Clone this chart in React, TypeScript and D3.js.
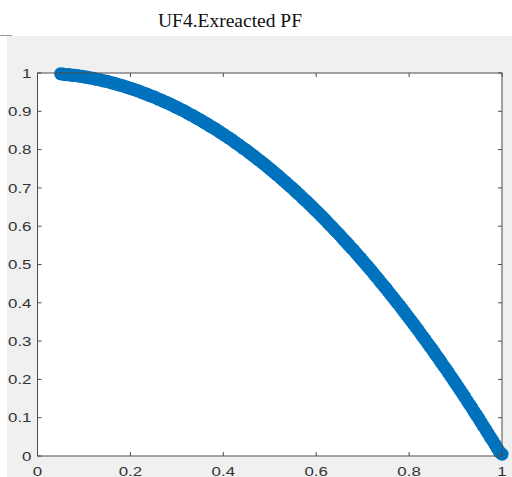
import { useEffect, useRef } from 'react'
import * as d3 from 'd3'

const title = 'UF4.Exreacted PF'
const xTicks = [0, 0.2, 0.4, 0.6, 0.8, 1]
const yTicks = [0, 0.1, 0.2, 0.3, 0.4, 0.5, 0.6, 0.7, 0.8, 0.9, 1]

const f1 = [
  0.05, 0.06, 0.07, 0.08, 0.09, 0.10, 0.11, 0.12, 0.13, 0.14,
  0.15, 0.16, 0.17, 0.18, 0.19, 0.20, 0.21, 0.22, 0.23, 0.24,
  0.25, 0.26, 0.27, 0.28, 0.29, 0.30, 0.31, 0.32, 0.33, 0.34,
  0.35, 0.36, 0.37, 0.38, 0.39, 0.40, 0.41, 0.42, 0.43, 0.44,
  0.45, 0.46, 0.47, 0.48, 0.49, 0.50, 0.51, 0.52, 0.53, 0.54,
  0.55, 0.56, 0.57, 0.58, 0.59, 0.60, 0.61, 0.62, 0.63, 0.64,
  0.65, 0.66, 0.67, 0.68, 0.69, 0.70, 0.71, 0.72, 0.73, 0.74,
  0.75, 0.76, 0.77, 0.78, 0.79, 0.80, 0.81, 0.82, 0.83, 0.84,
  0.85, 0.86, 0.87, 0.88, 0.89, 0.90, 0.91, 0.92, 0.93, 0.94,
  0.95, 0.96, 0.97, 0.98, 0.99, 1.00
]
const f2 = [
  0.998, 0.996, 0.995, 0.994, 0.992, 0.990, 0.988, 0.986, 0.983, 0.980,
  0.978, 0.974, 0.971, 0.968, 0.964, 0.960, 0.956, 0.952, 0.947, 0.942,
  0.938, 0.932, 0.927, 0.922, 0.916, 0.910, 0.904, 0.898, 0.891, 0.884,
  0.878, 0.870, 0.863, 0.856, 0.848, 0.840, 0.832, 0.824, 0.815, 0.806,
  0.798, 0.788, 0.779, 0.770, 0.760, 0.750, 0.740, 0.730, 0.719, 0.708,
  0.698, 0.686, 0.675, 0.664, 0.652, 0.640, 0.628, 0.616, 0.603, 0.590,
  0.578, 0.564, 0.551, 0.538, 0.524, 0.510, 0.496, 0.482, 0.467, 0.452,
  0.438, 0.422, 0.407, 0.392, 0.376, 0.360, 0.344, 0.328, 0.311, 0.294,
  0.278, 0.260, 0.243, 0.226, 0.208, 0.190, 0.172, 0.154, 0.135, 0.116,
  0.098, 0.078, 0.059, 0.040, 0.020, 0.005
]
// the in-between points of the same front
const f1Mid = [
  0.055, 0.065, 0.075, 0.085, 0.095, 0.105, 0.115, 0.125, 0.135, 0.145,
  0.155, 0.165, 0.175, 0.185, 0.195, 0.205, 0.215, 0.225, 0.235, 0.245,
  0.255, 0.265, 0.275, 0.285, 0.295, 0.305, 0.315, 0.325, 0.335, 0.345,
  0.355, 0.365, 0.375, 0.385, 0.395, 0.405, 0.415, 0.425, 0.435, 0.445,
  0.455, 0.465, 0.475, 0.485, 0.495, 0.505, 0.515, 0.525, 0.535, 0.545,
  0.555, 0.565, 0.575, 0.585, 0.595, 0.605, 0.615, 0.625, 0.635, 0.645,
  0.655, 0.665, 0.675, 0.685, 0.695, 0.705, 0.715, 0.725, 0.735, 0.745,
  0.755, 0.765, 0.775, 0.785, 0.795, 0.805, 0.815, 0.825, 0.835, 0.845,
  0.855, 0.865, 0.875, 0.885, 0.895, 0.905, 0.915, 0.925, 0.935, 0.945,
  0.955, 0.965, 0.975, 0.985, 0.995
]
const f2Mid = [
  0.997, 0.996, 0.994, 0.993, 0.991, 0.989, 0.987, 0.984, 0.982, 0.979,
  0.976, 0.973, 0.969, 0.966, 0.962, 0.958, 0.954, 0.949, 0.945, 0.940,
  0.935, 0.930, 0.924, 0.919, 0.913, 0.907, 0.901, 0.894, 0.888, 0.881,
  0.874, 0.867, 0.859, 0.852, 0.844, 0.836, 0.828, 0.819, 0.811, 0.802,
  0.793, 0.784, 0.774, 0.765, 0.755, 0.745, 0.735, 0.724, 0.714, 0.703,
  0.692, 0.681, 0.669, 0.658, 0.646, 0.634, 0.622, 0.609, 0.597, 0.584,
  0.571, 0.558, 0.544, 0.531, 0.517, 0.503, 0.489, 0.474, 0.460, 0.445,
  0.430, 0.415, 0.399, 0.384, 0.368, 0.352, 0.336, 0.319, 0.303, 0.286,
  0.269, 0.252, 0.234, 0.217, 0.199, 0.181, 0.163, 0.144, 0.126, 0.107,
  0.088, 0.069, 0.049, 0.030, 0.010
]

export default function App() {
  const svgRef = useRef<SVGSVGElement>(null)
  const width = 512
  const height = 477

  useEffect(() => {
    const svg = d3.select(svgRef.current)
    svg.selectAll('*').remove()

    const margin = { top: 73, right: 10, bottom: 21, left: 37.5 }
    const innerWidth = width - margin.left - margin.right
    const innerHeight = height - margin.top - margin.bottom
    const axisColor = '#4d4d4d'
    const labelColor = '#333333'

    // figure background
    svg.append('rect')
      .attr('x', 7).attr('y', 36)
      .attr('width', width - 7).attr('height', height - 36)
      .attr('fill', '#f0f0f0')
    svg.append('line')
      .attr('x1', 0).attr('x2', 12).attr('y1', 35.5).attr('y2', 35.5)
      .attr('stroke', '#9a9a9a').attr('stroke-width', 1)

    svg.append('text')
      .attr('x', 230).attr('y', 27)
      .attr('text-anchor', 'middle')
      .style('font-family', '"Liberation Serif", "Times New Roman", serif')
      .style('font-size', '19.5px')
      .style('fill', '#111')
      .text(title)

    const x = d3.scaleLinear().domain([0, 1]).range([0, innerWidth])
    const y = d3.scaleLinear().domain([0, 1]).range([innerHeight, 0])

    const g = svg.append('g')
      .attr('transform', `translate(${margin.left},${margin.top})`)

    g.append('rect')
      .attr('width', innerWidth).attr('height', innerHeight)
      .attr('fill', '#ffffff')

    const pts = f1.map((v, i) => ({ x: v, y: f2[i] }))
      .concat(f1Mid.map((v, i) => ({ x: v, y: f2Mid[i] })))
      .sort((a, b) => a.x - b.x)
    g.selectAll('.dot')
      .data(pts)
      .enter().append('circle')
      .attr('class', 'dot')
      .attr('cx', d => x(d.x))
      .attr('cy', d => y(d.y))
      .attr('r', 6.6)
      .attr('fill', '#0072bd')

    // ticks (inside, on all four sides)
    const tickLen = 4
    xTicks.forEach(t => {
      g.append('line')
        .attr('x1', x(t)).attr('x2', x(t))
        .attr('y1', innerHeight).attr('y2', innerHeight - tickLen)
        .attr('stroke', axisColor)
      g.append('line')
        .attr('x1', x(t)).attr('x2', x(t))
        .attr('y1', 0).attr('y2', tickLen)
        .attr('stroke', axisColor)
      g.append('text')
        .attr('transform', `translate(${x(t)},${innerHeight + 20}) scale(1.3,1)`)
        .attr('text-anchor', 'middle')
        .style('font-family', '"Liberation Sans", Arial, sans-serif')
        .style('font-size', '13px')
        .style('fill', labelColor)
        .text(d3.format('~g')(t))
    })
    yTicks.forEach(t => {
      g.append('line')
        .attr('x1', 0).attr('x2', tickLen)
        .attr('y1', y(t)).attr('y2', y(t))
        .attr('stroke', axisColor)
      g.append('line')
        .attr('x1', innerWidth).attr('x2', innerWidth - tickLen)
        .attr('y1', y(t)).attr('y2', y(t))
        .attr('stroke', axisColor)
      g.append('text')
        .attr('transform', `translate(-6,${y(t) + 4.7}) scale(1.3,1)`)
        .attr('text-anchor', 'end')
        .style('font-family', '"Liberation Sans", Arial, sans-serif')
        .style('font-size', '13px')
        .style('fill', labelColor)
        .text(d3.format('~g')(t))
    })

    g.append('rect')
      .attr('width', innerWidth).attr('height', innerHeight)
      .attr('fill', 'none')
      .attr('stroke', axisColor)
      .attr('stroke-width', 1)
  }, [])

  return (
    <div style={{ position: 'absolute', left: 0, top: 0 }}>
      <svg ref={svgRef} width={width} height={height} style={{ display: 'block' }} />
    </div>
  )
}
